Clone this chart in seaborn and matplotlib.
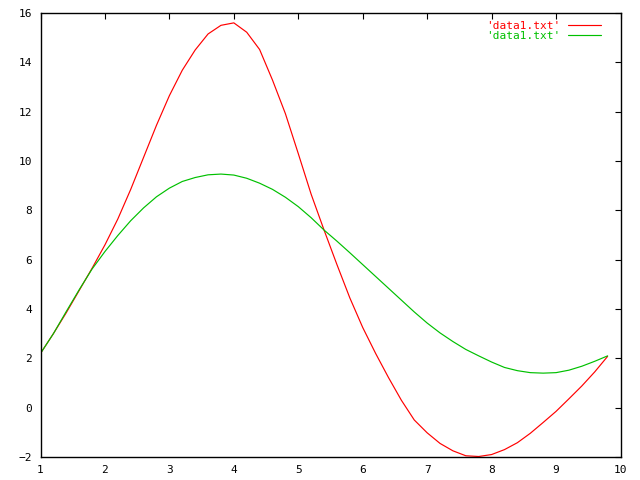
import numpy as np
import pandas as pd
import matplotlib
matplotlib.use('Agg')
import matplotlib.pyplot as plt
import seaborn as sns

# valores
x_vals = [1.0, 1.2, 1.4, 1.6, 1.8, 2.0, 2.2, 2.4, 2.6, 2.8,
          3.0, 3.2, 3.4, 3.6, 3.8, 4.0, 4.2, 4.4, 4.6, 4.8,
          5.0, 5.2, 5.4, 5.6, 5.8, 6.0, 6.2, 6.4, 6.6, 6.8,
          7.0, 7.2, 7.4, 7.6, 7.8, 8.0, 8.2, 8.4, 8.6, 8.8,
          9.0, 9.2, 9.4, 9.6, 9.8]
red_vals = [2.2, 3.0, 3.85, 4.75, 5.65, 6.6, 7.65, 8.85, 10.15, 11.45,
            12.65, 13.68, 14.5, 15.15, 15.5, 15.6, 15.22, 14.52, 13.28, 11.92,
            10.3, 8.65, 7.2, 5.8, 4.45, 3.25, 2.2, 1.22, 0.3, -0.5,
            -1.02, -1.45, -1.75, -1.95, -1.98, -1.9, -1.7, -1.42, -1.04, -0.6,
            -0.15, 0.36, 0.88, 1.45, 2.08]
green_vals = [2.2, 3.0, 3.9, 4.78, 5.62, 6.33, 6.98, 7.58, 8.1, 8.55,
              8.9, 9.17, 9.33, 9.44, 9.47, 9.43, 9.3, 9.1, 8.85, 8.53,
              8.15, 7.7, 7.2, 6.75, 6.28, 5.8, 5.32, 4.84, 4.36, 3.88,
              3.43, 3.03, 2.68, 2.36, 2.1, 1.85, 1.63, 1.5, 1.42, 1.4,
              1.42, 1.52, 1.68, 1.88, 2.1]
legend_label = "'data1.txt'"
x_ticks = [1, 2, 3, 4, 5, 6, 7, 8, 9, 10]
y_ticks = [-2, 0, 2, 4, 6, 8, 10, 12, 14, 16]

df = pd.DataFrame({'x': x_vals, 'red': red_vals, 'green': green_vals})

sns.set_style('white')
plt.rcParams['font.family'] = ['DejaVu Sans Mono']

fig = plt.figure(figsize=(6.4, 4.8), dpi=100)
ax = fig.add_axes([40.5 / 640, 23 / 480, 580 / 640, 444 / 480])

sns.lineplot(data=df, x='x', y='red', color='#ff0000', linewidth=0.85,
             label=legend_label, sort=False, estimator=None, ax=ax)
sns.lineplot(data=df, x='x', y='green', color='#00c000', linewidth=0.85,
             label=legend_label, sort=False, estimator=None, ax=ax)

ax.set_xlim(1, 10)
ax.set_ylim(-2, 16)
ax.set_xticks(x_ticks)
ax.set_yticks(y_ticks)
ax.set_xlabel('')
ax.set_ylabel('')
ax.tick_params(direction='in', length=4, width=0.8, top=True, right=True,
               labelsize=8, colors='black', pad=6)
for s in ax.spines.values():
    s.set_visible(True)
    s.set_color('black')
    s.set_linewidth(1.0)

leg = ax.legend(loc='upper right', bbox_to_anchor=(0.976, 0.995), frameon=False,
                markerfirst=False, handlelength=3.0, handletextpad=0.7,
                labelspacing=0.05, borderpad=0, fontsize=8)
for txt, c in zip(leg.get_texts(), ['#ff0000', '#00c000']):
    txt.set_color(c)

plt.savefig('out.png', dpi=100)
